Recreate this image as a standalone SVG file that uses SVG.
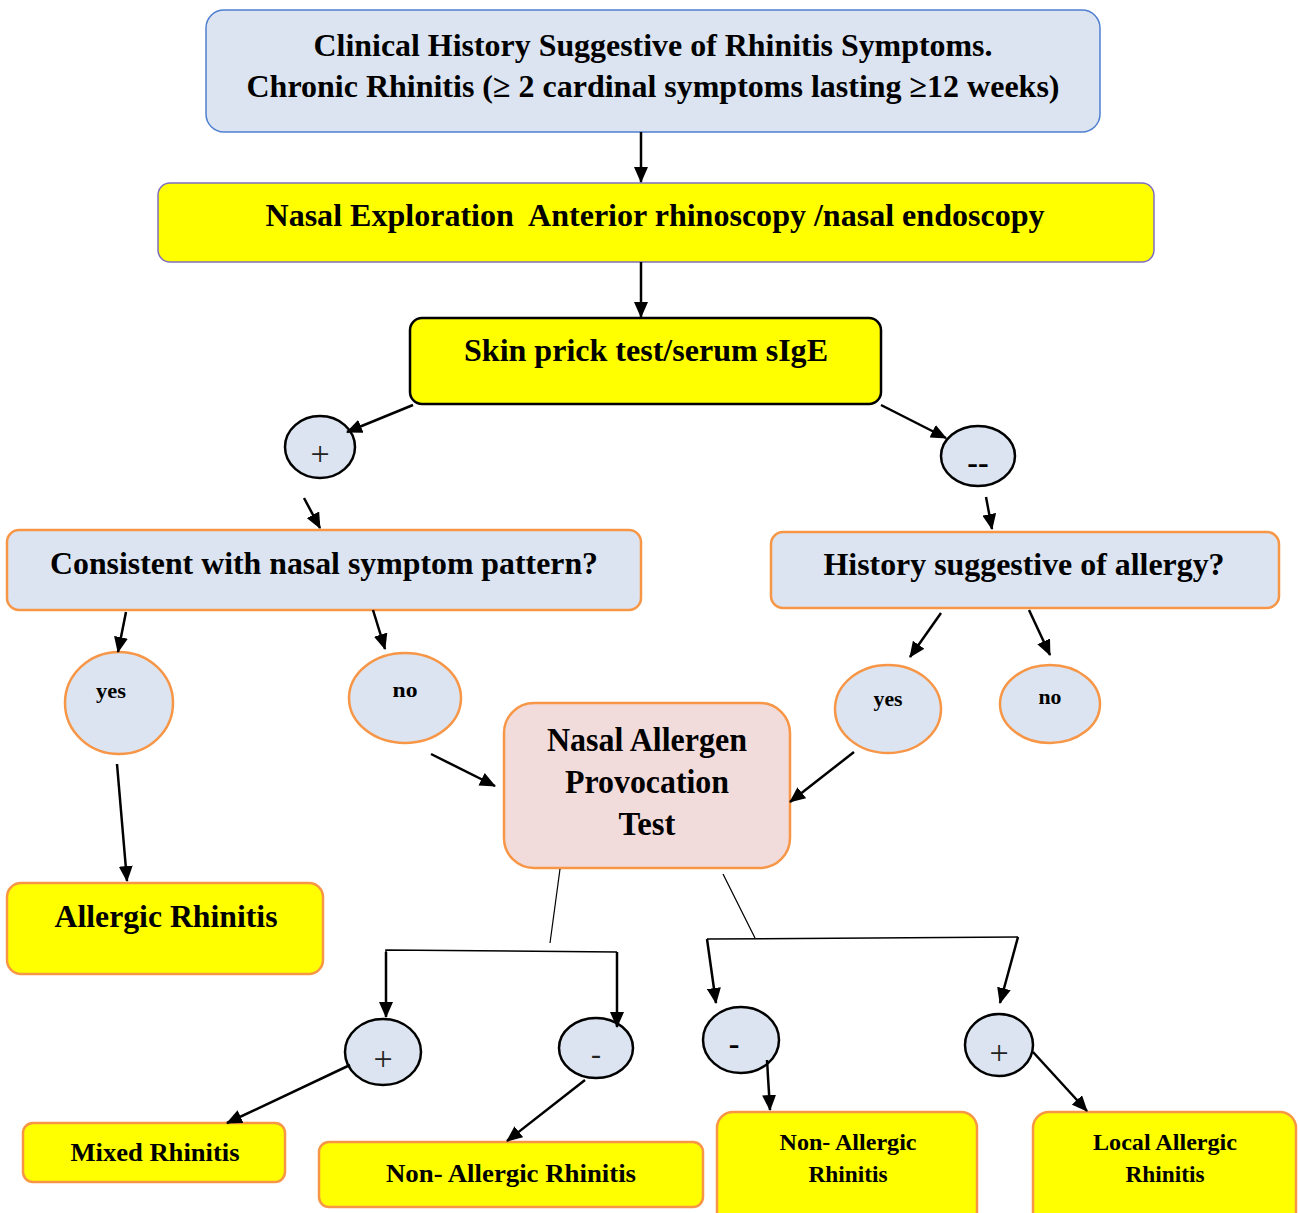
<svg xmlns="http://www.w3.org/2000/svg" width="1298" height="1213" viewBox="0 0 1298 1213" font-family="'Liberation Serif', 'Times New Roman', Times, serif">
<defs>
<marker id="ah" markerWidth="16" markerHeight="14" refX="15" refY="7" orient="auto" markerUnits="userSpaceOnUse">
<path d="M0,0 L16,7 L0,14 Z" fill="#000"/>
</marker>
<style>
text{font-family:'Liberation Serif','Times New Roman',Times,serif;font-weight:bold;fill:#000;text-anchor:middle}
.blue{fill:#dbe4f0}
.ob{stroke:#f79646;stroke-width:2.5}
.yl{fill:#ffff00}
.kb{stroke:#000;stroke-width:2.5}
.c line,.c path{stroke:#000;stroke-width:2.5;fill:none}
.c .thin{stroke-width:1.2}
.t32{font-size:32px}
.t26{font-size:26px}
.t24{font-size:24px}
.t20{font-size:21px}
.pm{font-weight:normal;font-size:34px;fill:#222}
</style>
</defs>
<rect width="1298" height="1213" fill="#fff"/>

<g id="n-history">
<rect x="206" y="10" width="894" height="122" rx="18" class="blue" stroke="#4f7fd0" stroke-width="1.5"/>
<text class="t32" x="653" y="56" textLength="679" lengthAdjust="spacingAndGlyphs">Clinical History Suggestive of Rhinitis Symptoms.</text>
<text class="t32" x="653" y="97" textLength="813" lengthAdjust="spacingAndGlyphs">Chronic Rhinitis (≥ 2 cardinal symptoms lasting ≥12 weeks)</text>
</g>

<g id="n-exploration">
<rect x="158" y="183" width="996" height="79" rx="12" class="yl" stroke="#7f6fc0" stroke-width="1.5"/>
<text class="t32" x="655" y="226" textLength="779" lengthAdjust="spacingAndGlyphs" xml:space="preserve" style="white-space:pre">Nasal Exploration  Anterior rhinoscopy /nasal endoscopy</text>
</g>

<g id="n-skin">
<rect x="410" y="318" width="471" height="86" rx="12" class="yl kb"/>
<text class="t32" x="646" y="361" textLength="364" lengthAdjust="spacingAndGlyphs">Skin prick test/serum sIgE</text>
</g>

<g id="n-plus1">
<ellipse cx="320" cy="447" rx="35" ry="31" class="blue kb"/>
<text class="pm" x="320" y="465">+</text>
</g>

<g id="n-minus1">
<ellipse cx="978" cy="456" rx="37" ry="30" class="blue kb"/>
<text class="t32" x="978" y="473">--</text>
</g>

<g id="n-consistent">
<rect x="7" y="530" width="634" height="80" rx="12" class="blue ob"/>
<text class="t32" x="324" y="574" textLength="548" lengthAdjust="spacingAndGlyphs">Consistent with nasal symptom pattern?</text>
</g>

<g id="n-suggestive">
<rect x="771" y="532" width="508" height="76" rx="12" class="blue ob"/>
<text class="t32" x="1024" y="575" textLength="401" lengthAdjust="spacingAndGlyphs">History suggestive of allergy?</text>
</g>

<g id="n-yes1">
<ellipse cx="119" cy="703" rx="54" ry="51" class="blue ob"/>
<text class="t20" x="111" y="698" textLength="30" lengthAdjust="spacingAndGlyphs">yes</text>
</g>

<g id="n-no1">
<ellipse cx="405" cy="698" rx="56" ry="45" class="blue ob"/>
<text class="t20" x="405" y="697" textLength="25" lengthAdjust="spacingAndGlyphs">no</text>
</g>

<g id="n-yes2">
<ellipse cx="888" cy="709" rx="53" ry="44" class="blue ob"/>
<text class="t20" x="888" y="706" textLength="29" lengthAdjust="spacingAndGlyphs">yes</text>
</g>

<g id="n-no2">
<ellipse cx="1050" cy="704" rx="50" ry="39" class="blue ob"/>
<text class="t20" x="1050" y="704" textLength="23" lengthAdjust="spacingAndGlyphs">no</text>
</g>

<g id="n-allergic">
<rect x="7" y="883" width="316" height="91" rx="14" class="yl ob"/>
<text class="t32" x="166" y="927" textLength="223" lengthAdjust="spacingAndGlyphs">Allergic Rhinitis</text>
</g>

<g id="n-napt">
<rect x="504" y="703" width="286" height="165" rx="30" fill="#f2dcdb" class="ob"/>
<text class="t32" x="647" y="751" textLength="200" lengthAdjust="spacingAndGlyphs" style="font-size:33px">Nasal Allergen</text>
<text class="t32" x="647" y="793" textLength="164" lengthAdjust="spacingAndGlyphs" style="font-size:33px">Provocation</text>
<text class="t32" x="647" y="835" textLength="57" lengthAdjust="spacingAndGlyphs" style="font-size:33px">Test</text>
</g>

<g id="n-plus2">
<ellipse cx="383" cy="1052" rx="38" ry="33" class="blue kb"/>
<text class="pm" x="383" y="1070">+</text>
</g>

<g id="n-minus2">
<ellipse cx="596" cy="1048" rx="37" ry="30" class="blue kb"/>
<text class="pm" x="596" y="1064" style="font-size:30px">-</text>
</g>

<g id="n-minus3">
<ellipse cx="741" cy="1040" rx="38" ry="33" class="blue kb"/>
<text class="t32" x="734" y="1054">-</text>
</g>

<g id="n-plus3">
<ellipse cx="999" cy="1045" rx="34" ry="31" class="blue kb"/>
<text class="pm" x="999" y="1064">+</text>
</g>

<g id="n-mixed">
<rect x="23" y="1123" width="262" height="59" rx="10" class="yl ob"/>
<text class="t26" x="155" y="1161" textLength="169" lengthAdjust="spacingAndGlyphs">Mixed Rhinitis</text>
</g>

<g id="n-nonallergic1">
<rect x="319" y="1142" width="384" height="65" rx="10" class="yl ob"/>
<text class="t26" x="511" y="1182" textLength="250" lengthAdjust="spacingAndGlyphs">Non- Allergic Rhinitis</text>
</g>

<g id="n-nonallergic2">
<rect x="717" y="1112" width="260" height="120" rx="16" class="yl ob"/>
<text class="t24" x="848" y="1150" textLength="137" lengthAdjust="spacingAndGlyphs">Non- Allergic</text>
<text class="t24" x="848" y="1182" textLength="79" lengthAdjust="spacingAndGlyphs">Rhinitis</text>
</g>

<g id="n-local">
<rect x="1033" y="1112" width="263" height="120" rx="16" class="yl ob"/>
<text class="t24" x="1165" y="1150" textLength="144" lengthAdjust="spacingAndGlyphs">Local Allergic</text>
<text class="t24" x="1165" y="1182" textLength="79" lengthAdjust="spacingAndGlyphs">Rhinitis</text>
</g>

<g id="connectors" class="c">
<line x1="641" y1="132" x2="641" y2="182" marker-end="url(#ah)"/>
<line x1="641" y1="262" x2="641" y2="317" marker-end="url(#ah)"/>
<line x1="413" y1="405" x2="347" y2="432" marker-end="url(#ah)"/>
<line x1="881" y1="405" x2="946" y2="438" marker-end="url(#ah)"/>
<line x1="304" y1="498" x2="320" y2="528" marker-end="url(#ah)"/>
<line x1="986" y1="497" x2="992" y2="529" marker-end="url(#ah)"/>
<line x1="126" y1="612" x2="118" y2="652" marker-end="url(#ah)"/>
<line x1="373" y1="610" x2="385" y2="649" marker-end="url(#ah)"/>
<line x1="941" y1="613" x2="910" y2="657" marker-end="url(#ah)"/>
<line x1="1029" y1="610" x2="1050" y2="655" marker-end="url(#ah)"/>
<line x1="117" y1="764" x2="127" y2="881" marker-end="url(#ah)"/>
<line x1="431" y1="754" x2="495" y2="786" marker-end="url(#ah)"/>
<line x1="854" y1="752" x2="790" y2="802" marker-end="url(#ah)"/>
<line class="thin" x1="560" y1="869" x2="550" y2="943"/>
<path d="M386,1017 L386,950 L617,952" style="stroke-width:1.5"/>
<line x1="386" y1="952" x2="386" y2="1017" marker-end="url(#ah)"/>
<line x1="617" y1="952" x2="617" y2="1027" marker-end="url(#ah)"/>
<line class="thin" x1="723" y1="874" x2="755" y2="938"/>
<line x1="707" y1="939" x2="1018" y2="937" style="stroke-width:1.5"/>
<line x1="707" y1="939" x2="716" y2="1003" marker-end="url(#ah)"/>
<line x1="1018" y1="937" x2="1000" y2="1003" marker-end="url(#ah)"/>
<line x1="350" y1="1065" x2="227" y2="1123" marker-end="url(#ah)"/>
<line x1="585" y1="1080" x2="507" y2="1141" marker-end="url(#ah)"/>
<line x1="767" y1="1060" x2="770" y2="1110" marker-end="url(#ah)"/>
<line x1="1033" y1="1052" x2="1087" y2="1111" marker-end="url(#ah)"/>
</g>
</svg>
